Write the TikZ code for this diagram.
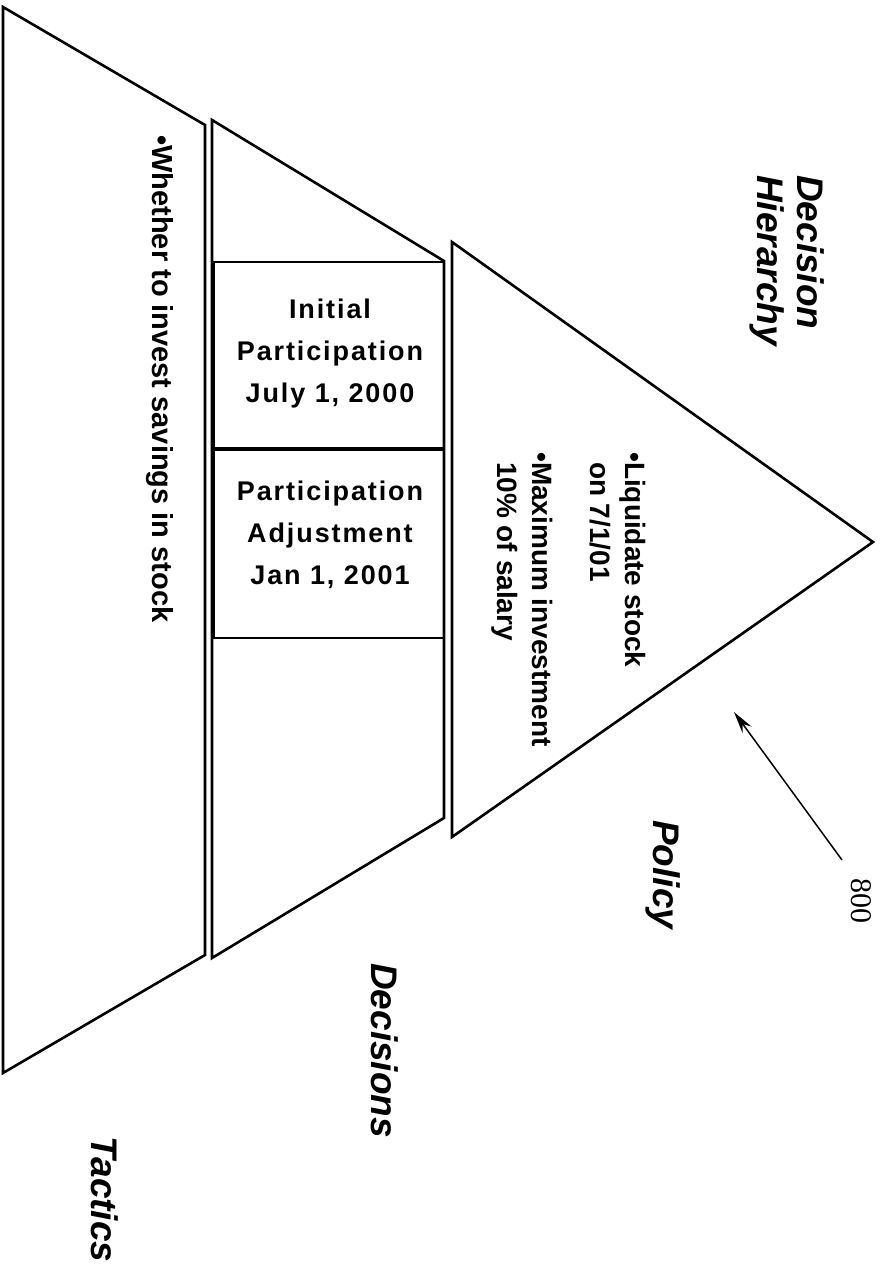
\documentclass[tikz,border=0pt]{standalone}
\usepackage{fontspec}
\setmainfont{Liberation Sans}
\newfontfamily\refserif{Liberation Serif}
\newfontfamily\spacedsans[LetterSpace=7]{Liberation Sans}
\usetikzlibrary{arrows.meta}
\begin{document}
\begin{tikzpicture}[x=1pt,y=-1pt,
  outline/.style={draw=black, line width=2.6pt, line join=miter},
  divider/.style={draw=black, line width=2pt},
  heavydivider/.style={draw=black, line width=4.5pt},
  rottext/.style={rotate=-90, anchor=west, inner sep=0pt, align=left,
    font=\bfseries\fontsize{28}{35}\selectfont},
  headtext/.style={rotate=-90, anchor=west, inner sep=0pt, align=left,
    font=\bfseries\itshape\fontsize{37}{40}\selectfont},
  boxtext/.style={inner sep=0pt, align=center,
    font=\spacedsans\bfseries\fontsize{27}{42}\selectfont},
  pointer/.style={draw=black, line width=1.5pt, -{Stealth[length=22pt,width=11pt]}}
]
\useasboundingbox (0,0) rectangle (883,1268);

% Tactics trapezoid
\draw[outline] (3,7) -- (205,125) -- (205,955) -- (3,1073) -- cycle;
% Decisions trapezoid
\draw[outline] (212,120) -- (444,261) -- (444,818) -- (212,958) -- cycle;
% Policy triangle
\draw[outline] (452,242) -- (873,542) -- (452,837) -- cycle;

% Boxes inside decisions
\draw[divider] (212,262) -- (444,262);
\draw[heavydivider] (212,449) -- (444,449);
\draw[divider] (212,638) -- (444,638);
\draw[draw=black, line width=4pt] (213,262) -- (213,638);

\node[boxtext] (initial) at (330,354) {Initial\\Participation\\July 1, 2000};
\node[boxtext] (adjust) at (330,535) {Participation\\Adjustment\\Jan 1, 2001};

% Rotated texts
\node[rottext, font=\bfseries\fontsize{29}{35}\selectfont] (whether) at (160,135) {•Whether to invest savings in stock};
\node[rottext] (liquidate) at (618,452) {•Liquidate stock\\\hphantom{•}on 7/1/01};
\node[rottext] (maximum) at (522,452) {•Maximum investment\\\hphantom{•}10\% of salary};

\node[headtext] (hier) at (787,175) {Decision\\Hierarchy};
\node[headtext] (policy) at (663,820) {Policy};
\node[headtext] (decisions) at (385,963) {Decisions};
\node[headtext] (tactics) at (105,1136) {Tactics};

\node[rotate=-90, anchor=west, inner sep=0pt, font=\refserif\fontsize{30}{30}\selectfont] (ref) at (861,878) {800};

\coordinate (tail) at (842,860);
\coordinate (tip) at (734,712);
\draw[pointer] (tail) -- (tip);
\end{tikzpicture}
\end{document}
